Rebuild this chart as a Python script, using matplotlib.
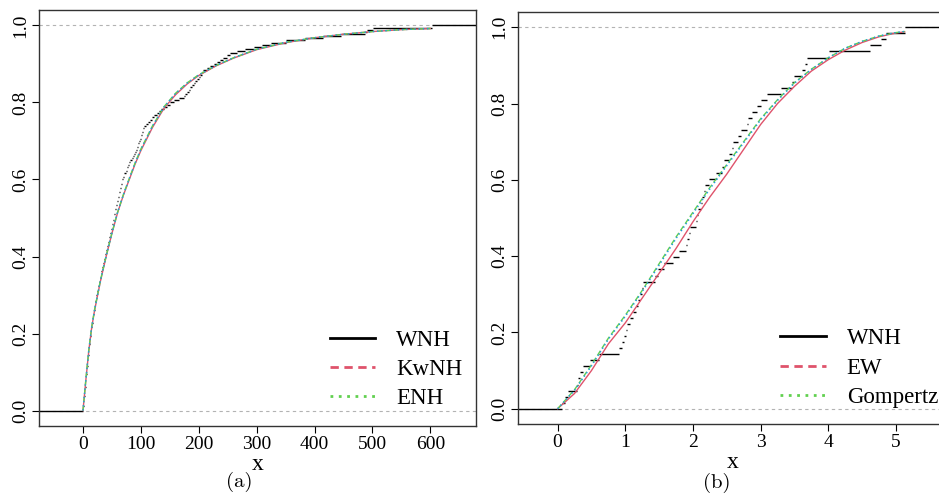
import numpy as np
import matplotlib
matplotlib.use("Agg")
import matplotlib.pyplot as plt

plt.rcParams['font.family'] = ['Liberation Serif', 'DejaVu Serif']

data_a = [
    0.5, 0.8, 1.1, 1.3, 1.7, 2.1, 2.4, 2.9, 3.2, 3.5, 3.9, 4.4, 4.6, 5.0, 5.4, 5.7,
    6.0, 6.6, 6.9, 7.1, 7.6, 8.0, 8.2, 8.7, 9.0, 9.5, 9.8, 10.0, 10.6, 10.9, 11.2,
    11.5, 12.0, 12.4, 12.7, 13.1,
    13.6, 14.2, 14.7, 15.3, 15.8, 16.5, 17.0, 17.6, 18.1, 18.7, 19.2, 19.9, 20.4,
    21.0, 21.6, 22.1, 22.8, 23.3, 24.0,
    24.8, 25.5, 26.4, 27.1, 27.9, 28.8, 29.5, 30.4, 31.1, 31.9, 32.8, 33.6, 34.4,
    35.2, 36.0,
    36.8, 37.7, 38.6, 39.4, 40.3, 41.1, 42.0, 42.9, 43.7, 44.6, 45.4, 46.3, 47.1,
    47.9, 48.7, 49.6, 50.3, 51.2, 52.0, 52.8, 53.6, 54.3, 55.2, 56.0, 56.8, 57.5,
    58.3, 59.1,
    60.0, 61.0, 61.8, 62.8, 63.7, 64.6, 65.5, 66.4, 67.3, 68.2, 69.1, 70.0,
    71.6, 73.5, 75.2, 76.9, 78.6, 80.3, 82.0,
    83.9, 85.7, 87.5, 89.4, 91.2, 93.0,
    94.3, 95.6, 96.9, 98.1, 99.4, 100.7, 102.0,
    103.0, 104.1, 105.2, 108.5, 112.0, 115.5, 119.0, 123.5, 128.0,
    131.7, 135.4, 139.1, 145.0, 151.0, 157.0, 165.5, 174.0,
    176.8, 179.5, 182.3, 185.0, 188.0, 191.0, 194.0, 197.0,
    199.8, 202.5, 205.3, 208.0, 214.0, 220.0, 225.7, 231.3, 237.0,
    242.7, 248.3, 254.0, 266.0, 280.0, 295.0, 310.0, 324.0, 350.0,
    384.0, 415.0, 446.0, 488.0, 491.0, 501.0, 603.0,
]

# fitted cdfs, panel (a)
curve_x_a = [0, 5, 10, 15, 20, 30, 40, 50, 60, 70, 80, 90, 100, 120, 140, 160,
             180, 200, 230, 260, 300, 350, 400, 450, 500, 550, 600]
wnh_a = [0, 0.08, 0.155, 0.215, 0.26, 0.335, 0.40, 0.46, 0.515, 0.56, 0.60,
         0.64, 0.675, 0.735, 0.785, 0.82, 0.848, 0.87, 0.895, 0.915, 0.937,
         0.955, 0.968, 0.977, 0.984, 0.989, 0.992]
kwnh_a = [0, 0.081, 0.157, 0.217, 0.262, 0.337, 0.401, 0.461, 0.516, 0.562,
          0.603, 0.643, 0.679, 0.739, 0.789, 0.824, 0.851, 0.872, 0.896, 0.916,
          0.938, 0.956, 0.968, 0.977, 0.984, 0.989, 0.992]
enh_a = [0, 0.081, 0.156, 0.216, 0.261, 0.336, 0.401, 0.461, 0.516, 0.561,
         0.602, 0.642, 0.678, 0.738, 0.788, 0.823, 0.850, 0.871, 0.896, 0.916,
         0.938, 0.956, 0.968, 0.977, 0.984, 0.989, 0.992]

# ---- panel (b): 63 sorted observations
data_b = [
    0.06, 0.11, 0.16, 0.28, 0.30, 0.33, 0.38, 0.48, 0.61, 0.905,
    0.95, 0.98, 1.01, 1.03, 1.07, 1.12, 1.16, 1.19, 1.22, 1.24,
    1.26, 1.44, 1.49, 1.57, 1.71, 1.79, 1.90, 1.91, 1.94, 1.95,
    2.04, 2.06, 2.08, 2.12, 2.13, 2.16, 2.18, 2.24, 2.34, 2.43,
    2.46, 2.53, 2.58, 2.59, 2.66, 2.71, 2.80, 2.81, 2.87, 2.94,
    3.00, 3.10, 3.30, 3.47, 3.49, 3.61, 3.65, 3.69, 4.01, 4.62,
    4.78, 4.86, 5.13,
]

curve_x_b = [0, 0.25, 0.5, 0.75, 1.0, 1.25, 1.5, 1.75, 2.0, 2.25, 2.5, 2.75,
             3.0, 3.25, 3.5, 3.75, 4.0, 4.25, 4.5, 4.75, 5.0, 5.13]
wnh_b = [0, 0.04, 0.10, 0.17, 0.225, 0.29, 0.355, 0.42, 0.49, 0.555, 0.615,
         0.68, 0.745, 0.80, 0.845, 0.885, 0.915, 0.94, 0.96, 0.975, 0.985, 0.988]
ew_b = [0, 0.05, 0.115, 0.185, 0.245, 0.31, 0.38, 0.45, 0.515, 0.58, 0.64,
        0.70, 0.76, 0.81, 0.855, 0.89, 0.92, 0.945, 0.963, 0.977, 0.986, 0.989]
gomp_b = [0, 0.048, 0.112, 0.182, 0.242, 0.307, 0.376, 0.446, 0.511, 0.576,
          0.637, 0.697, 0.757, 0.808, 0.853, 0.889, 0.92, 0.945, 0.963, 0.977,
          0.986, 0.989]

yticks = [0.0, 0.2, 0.4, 0.6, 0.8, 1.0]
ytick_labels = ["0.0", "0.2", "0.4", "0.6", "0.8", "1.0"]
xticks_a = [0, 100, 200, 300, 400, 500, 600]
xticks_b = [0, 1, 2, 3, 4, 5]

RED = "#DF536B"
GREEN = "#61D04F"
BLUE = "#2297E6"


def draw_ecdf(ax, data, xlim):
    # R style plot.ecdf: horizontal pieces only
    knots, counts = np.unique(np.asarray(data, dtype=float), return_counts=True)
    levels = np.cumsum(counts) / len(data)
    starts = np.concatenate([[xlim[0]], knots])
    ends = np.concatenate([knots, [xlim[1]]])
    heights = np.concatenate([[0.0], levels])
    ax.hlines(heights, starts, ends, colors="black", lw=1.0, zorder=2)


def style_axes(ax, xlim, xticks):
    ax.set_xlim(xlim)
    ax.set_ylim(-0.04, 1.04)
    ax.axhline(0, color="#B3B3B3", ls=(0, (3, 3)), lw=0.8, zorder=1)
    ax.axhline(1, color="#B3B3B3", ls=(0, (3, 3)), lw=0.8, zorder=1)
    ax.set_xticks(xticks)
    ax.set_yticks(yticks)
    ax.set_yticklabels(ytick_labels, rotation=90, va="center")
    ax.tick_params(axis="both", direction="out", length=5, width=0.8,
                   labelsize=14)
    ax.tick_params(axis="x", pad=2)
    ax.tick_params(axis="y", pad=2)
    for sp in ax.spines.values():
        sp.set_linewidth(1.0)
        sp.set_color("#333333")


fig = plt.figure(figsize=(9.39, 4.96), dpi=100)
ax1 = fig.add_axes([39 / 939, 70 / 496, (476 - 39) / 939, 416 / 496])
ax2 = fig.add_axes([517.7 / 939, 72 / 496, (948 - 517.7) / 939, 412 / 496])

xlim_a = (-76, 679)
xlim_b = (-0.59, 5.77)

style_axes(ax1, xlim_a, xticks_a)
draw_ecdf(ax1, data_a, xlim_a)
ax1.plot(curve_x_a, wnh_a, color=RED, lw=1.0, zorder=3)
ax1.plot(curve_x_a, kwnh_a, color=GREEN, lw=1.0, ls=(0, (4, 2)), zorder=4)
ax1.plot(curve_x_a, enh_a, color=BLUE, lw=1.0, ls=(0, (1, 2)), zorder=5)

style_axes(ax2, xlim_b, xticks_b)
draw_ecdf(ax2, data_b, xlim_b)
ax2.plot(curve_x_b, wnh_b, color=RED, lw=1.0, zorder=3)
ax2.plot(curve_x_b, ew_b, color=GREEN, lw=1.0, ls=(0, (4, 2)), zorder=4)
ax2.plot(curve_x_b, gomp_b, color=BLUE, lw=1.0, ls=(0, (1, 2)), zorder=5)

# legends (colours as in the original: black / red dashed / green dotted)
for ax, labels, anchor in [(ax1, ["WNH", "KwNH", "ENH"], (0.665, 0.232)),
                           (ax2, ["WNH", "EW", "Gompertz"], (0.61, 0.232))]:
    handles = [
        plt.Line2D([], [], color="black", lw=2.0),
        plt.Line2D([], [], color=RED, lw=2.0, ls=(0, (3, 2))),
        plt.Line2D([], [], color=GREEN, lw=2.0, ls=(0, (1, 2))),
    ]
    ax.legend(handles, labels, loc="upper left", bbox_to_anchor=anchor,
              frameon=False, fontsize=16.5, handlelength=2.0,
              handletextpad=0.9, labelspacing=0.36, borderpad=0,
              borderaxespad=0)

fig.text(257.5 / 939, 1 - 465 / 496, "x", ha="center", va="center", fontsize=17)
fig.text(733 / 939, 1 - 462 / 496, "x", ha="center", va="center", fontsize=17)
fig.text(239 / 939, 1 - 482 / 496, "(a)", ha="center", va="center",
         fontsize=15, family="cmr10")
fig.text(717 / 939, 1 - 483 / 496, "(b)", ha="center", va="center",
         fontsize=15, family="cmr10")

fig.savefig("out.png", dpi=100)
